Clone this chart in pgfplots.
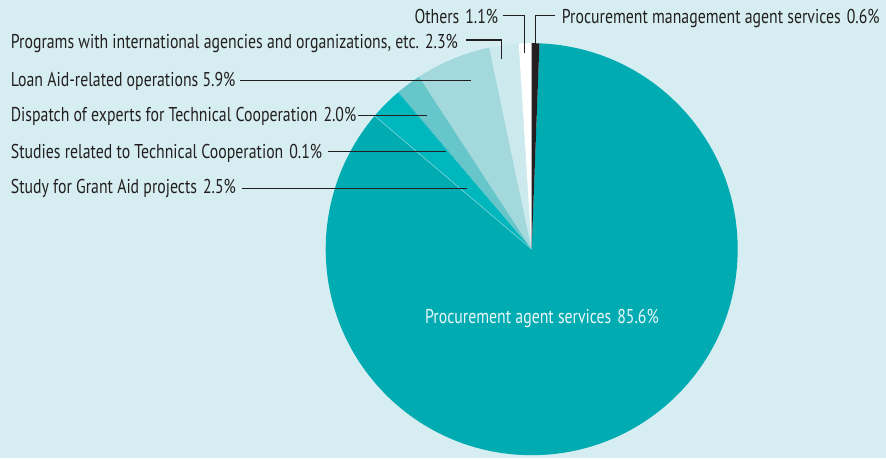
\documentclass[border=0pt]{standalone}
\usepackage{pgfplots}
\pgfplotsset{compat=1.18}
\usepackage{fontspec}
\setmainfont{PT Sans}[FakeStretch=0.79]
\definecolor{bgcol}{RGB}{214,238,241}
\definecolor{tealA}{RGB}{0,171,177}
\definecolor{tealB}{RGB}{0,183,189}
\definecolor{tealC}{RGB}{102,198,202}
\definecolor{tealD}{RGB}{163,217,221}
\definecolor{tealE}{RGB}{204,234,237}
\definecolor{darkc}{RGB}{35,31,32}
\definecolor{txt}{RGB}{35,31,32}
\definecolor{inner}{RGB}{232,247,248}
\tikzset{lab/.style={inner sep=0pt, anchor=base west, text=txt, font=\fontsize{20bp}{24bp}\selectfont}}
% slice: start percent, percent, colour
\newcommand{\slice}[3]{\fill[#3] (axis cs:531.7,208.8) -- ++({90-3.6*#1}:206bp) arc[start angle={90-3.6*#1}, delta angle={-3.6*#2}, radius=206bp] -- cycle;}
\begin{document}
\begin{tikzpicture}
\begin{axis}[x=1bp,y=1bp,xmin=0,xmax=886,ymin=0,ymax=458,
  axis lines=none, ticks=none, clip=false]
\fill[bgcol] (axis cs:0,0) rectangle (axis cs:886,458);
% wedges (clockwise from 12 o'clock), values in percent
\slice{0.6}{85.6}{tealA}   % Procurement agent services
\slice{86.2}{2.5}{tealB}   % Study for Grant Aid projects
\slice{88.7}{0.1}{tealB}   % Studies related to Technical Cooperation
\slice{88.8}{2.0}{tealC}   % Dispatch of experts
\slice{90.8}{5.9}{tealD}   % Loan Aid-related operations
\slice{96.7}{2.3}{tealE}   % Programs with international agencies
\slice{99.0}{1.1}{white}   % Others
\slice{0.0}{0.6}{darkc}    % Procurement management agent services
\draw[white!55!tealA, line width=0.5bp] (axis cs:531.7,208.8) -- ++({90-3.6*86.2}:206bp);
% leader lines
\begin{scope}[draw=txt, line width=1.1bp]
\draw (axis cs:240,377.3) -- (axis cs:470.7,377.3);
\draw (axis cs:358,342.7) -- (axis cs:426.7,342.7);
\draw (axis cs:328,306.3) -- (axis cs:446,306.3);
\draw (axis cs:241.7,269.7) -- (axis cs:466.7,269.7);
\draw (axis cs:466,418) -- (axis cs:501.7,418) -- (axis cs:501.7,398.7);
\draw (axis cs:502.7,442.3) -- (axis cs:524.3,442.3) -- (axis cs:524.3,404.7);
\draw (axis cs:555,442.3) -- (axis cs:535.7,442.3) -- (axis cs:535.7,398);
\end{scope}
% labels
\node[lab] at (axis cs:414.3,434) {Others\hspace{6bp}1.1\%};
\node[lab] at (axis cs:561.7,434) {Procurement management agent services\hspace{6bp}0.6\%};
\node[lab] at (axis cs:10.7,409.7) {Programs with international agencies and organizations, etc.\hspace{6bp}2.3\%};
\node[lab] at (axis cs:10.7,371.7) {Loan Aid-related operations 5.9\%};
\node[lab] at (axis cs:10.7,336.3) {Dispatch of experts for Technical Cooperation\hspace{6bp}2.0\%};
\node[lab] at (axis cs:10.7,299.7) {Studies related to Technical Cooperation\hspace{6bp}0.1\%};
\node[lab] at (axis cs:10.7,264) {Study for Grant Aid projects\hspace{6bp}2.5\%};
\node[lab, text=inner] at (axis cs:425,134.7) {Procurement agent services\hspace{6bp}85.6\%};
\end{axis}
\end{tikzpicture}
\end{document}
